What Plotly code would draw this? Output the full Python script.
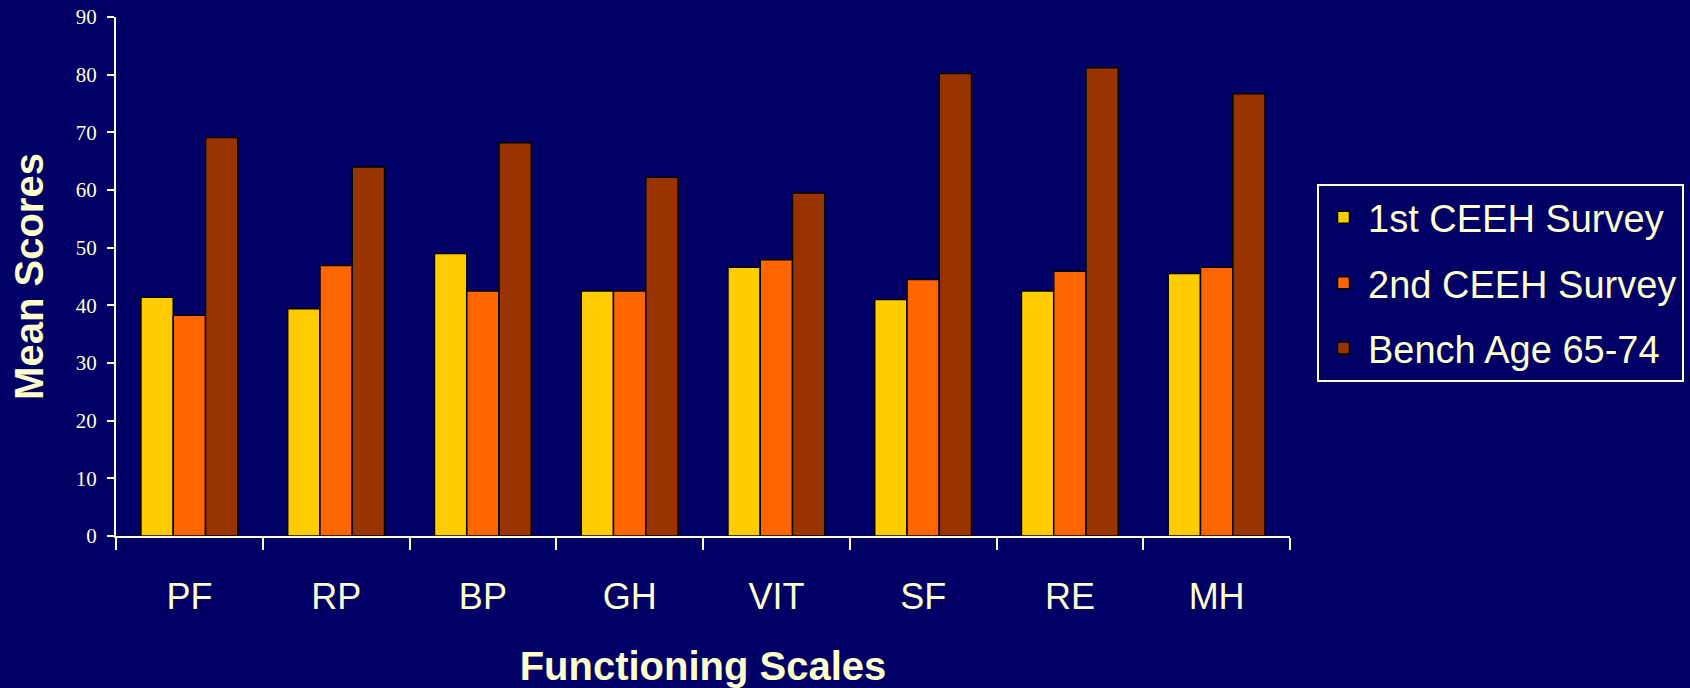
import plotly.graph_objects as go

categories = ["PF", "RP", "BP", "GH", "VIT", "SF", "RE", "MH"]
first_survey = [41.4, 39.4, 49.0, 42.5, 46.6, 41.0, 42.5, 45.5]
second_survey = [38.3, 46.9, 42.5, 42.5, 47.9, 44.5, 45.9, 46.6]
bench_65_74 = [69.1, 64.0, 68.2, 62.2, 59.5, 80.2, 81.2, 76.7]
series_names = ["1st CEEH Survey", "2nd CEEH Survey", "Bench Age 65-74"]
y_ticks = [0, 10, 20, 30, 40, 50, 60, 70, 80, 90]

BG = "#000066"
FG = "#FFFFCC"
colors = ["#FFCC00", "#FF6600", "#993300"]

fig = go.Figure()
for i, (name, vals) in enumerate(zip(series_names, [first_survey, second_survey, bench_65_74])):
    fig.add_trace(go.Bar(
        x=categories, y=vals, name=name, legendgroup=name,
        marker=dict(color=colors[i], line=dict(color="black", width=1.5)),
    ))

fig.update_layout(
    width=1690, height=688,
    paper_bgcolor=BG, plot_bgcolor=BG,
    margin=dict(l=116, r=400, t=17, b=152, autoexpand=False),
    barmode="group", bargap=0.34, bargroupgap=0,
    font=dict(family="Liberation Sans, Arial", color=FG),
    showlegend=True,
    legend=dict(
        x=1.023, y=0.678, xanchor="left", yanchor="top",
        bgcolor=BG, bordercolor=FG, borderwidth=2,
        font=dict(size=38, color=FG, family="Liberation Sans, Arial"),
        tracegroupgap=13, traceorder="grouped", itemwidth=39,
    ),
)
fig.update_xaxes(
    automargin=False,
    showline=True, linecolor=FG, linewidth=2,
    ticks="outside", tickson="boundaries", ticklen=12, tickcolor=FG, tickwidth=2,
    tickfont=dict(size=36, color=FG, family="Liberation Sans, Arial"),
    ticklabelstandoff=28,
    showgrid=False, zeroline=False,
    title=dict(text="<b>Functioning Scales</b>", font=dict(size=40, color=FG, family="Liberation Sans, Arial"), standoff=42),
)
fig.update_yaxes(
    automargin=False,
    range=[0, 90], tickvals=y_ticks,
    showline=True, linecolor=FG, linewidth=2,
    ticks="outside", ticklen=7, tickcolor=FG, tickwidth=2,
    tickfont=dict(size=21, color=FG, family="Liberation Serif, Times New Roman"),
    ticklabelstandoff=6,
    showgrid=False, zeroline=False,
    title=dict(text="<b>Mean Scores</b>", font=dict(size=40, color=FG, family="Liberation Sans, Arial"), standoff=20),
)

fig.write_html(
    "out.html",
    config={"displayModeBar": False},
    post_script="document.body.style.margin='0';document.body.style.padding='0';document.body.style.background='#000066';",
)
